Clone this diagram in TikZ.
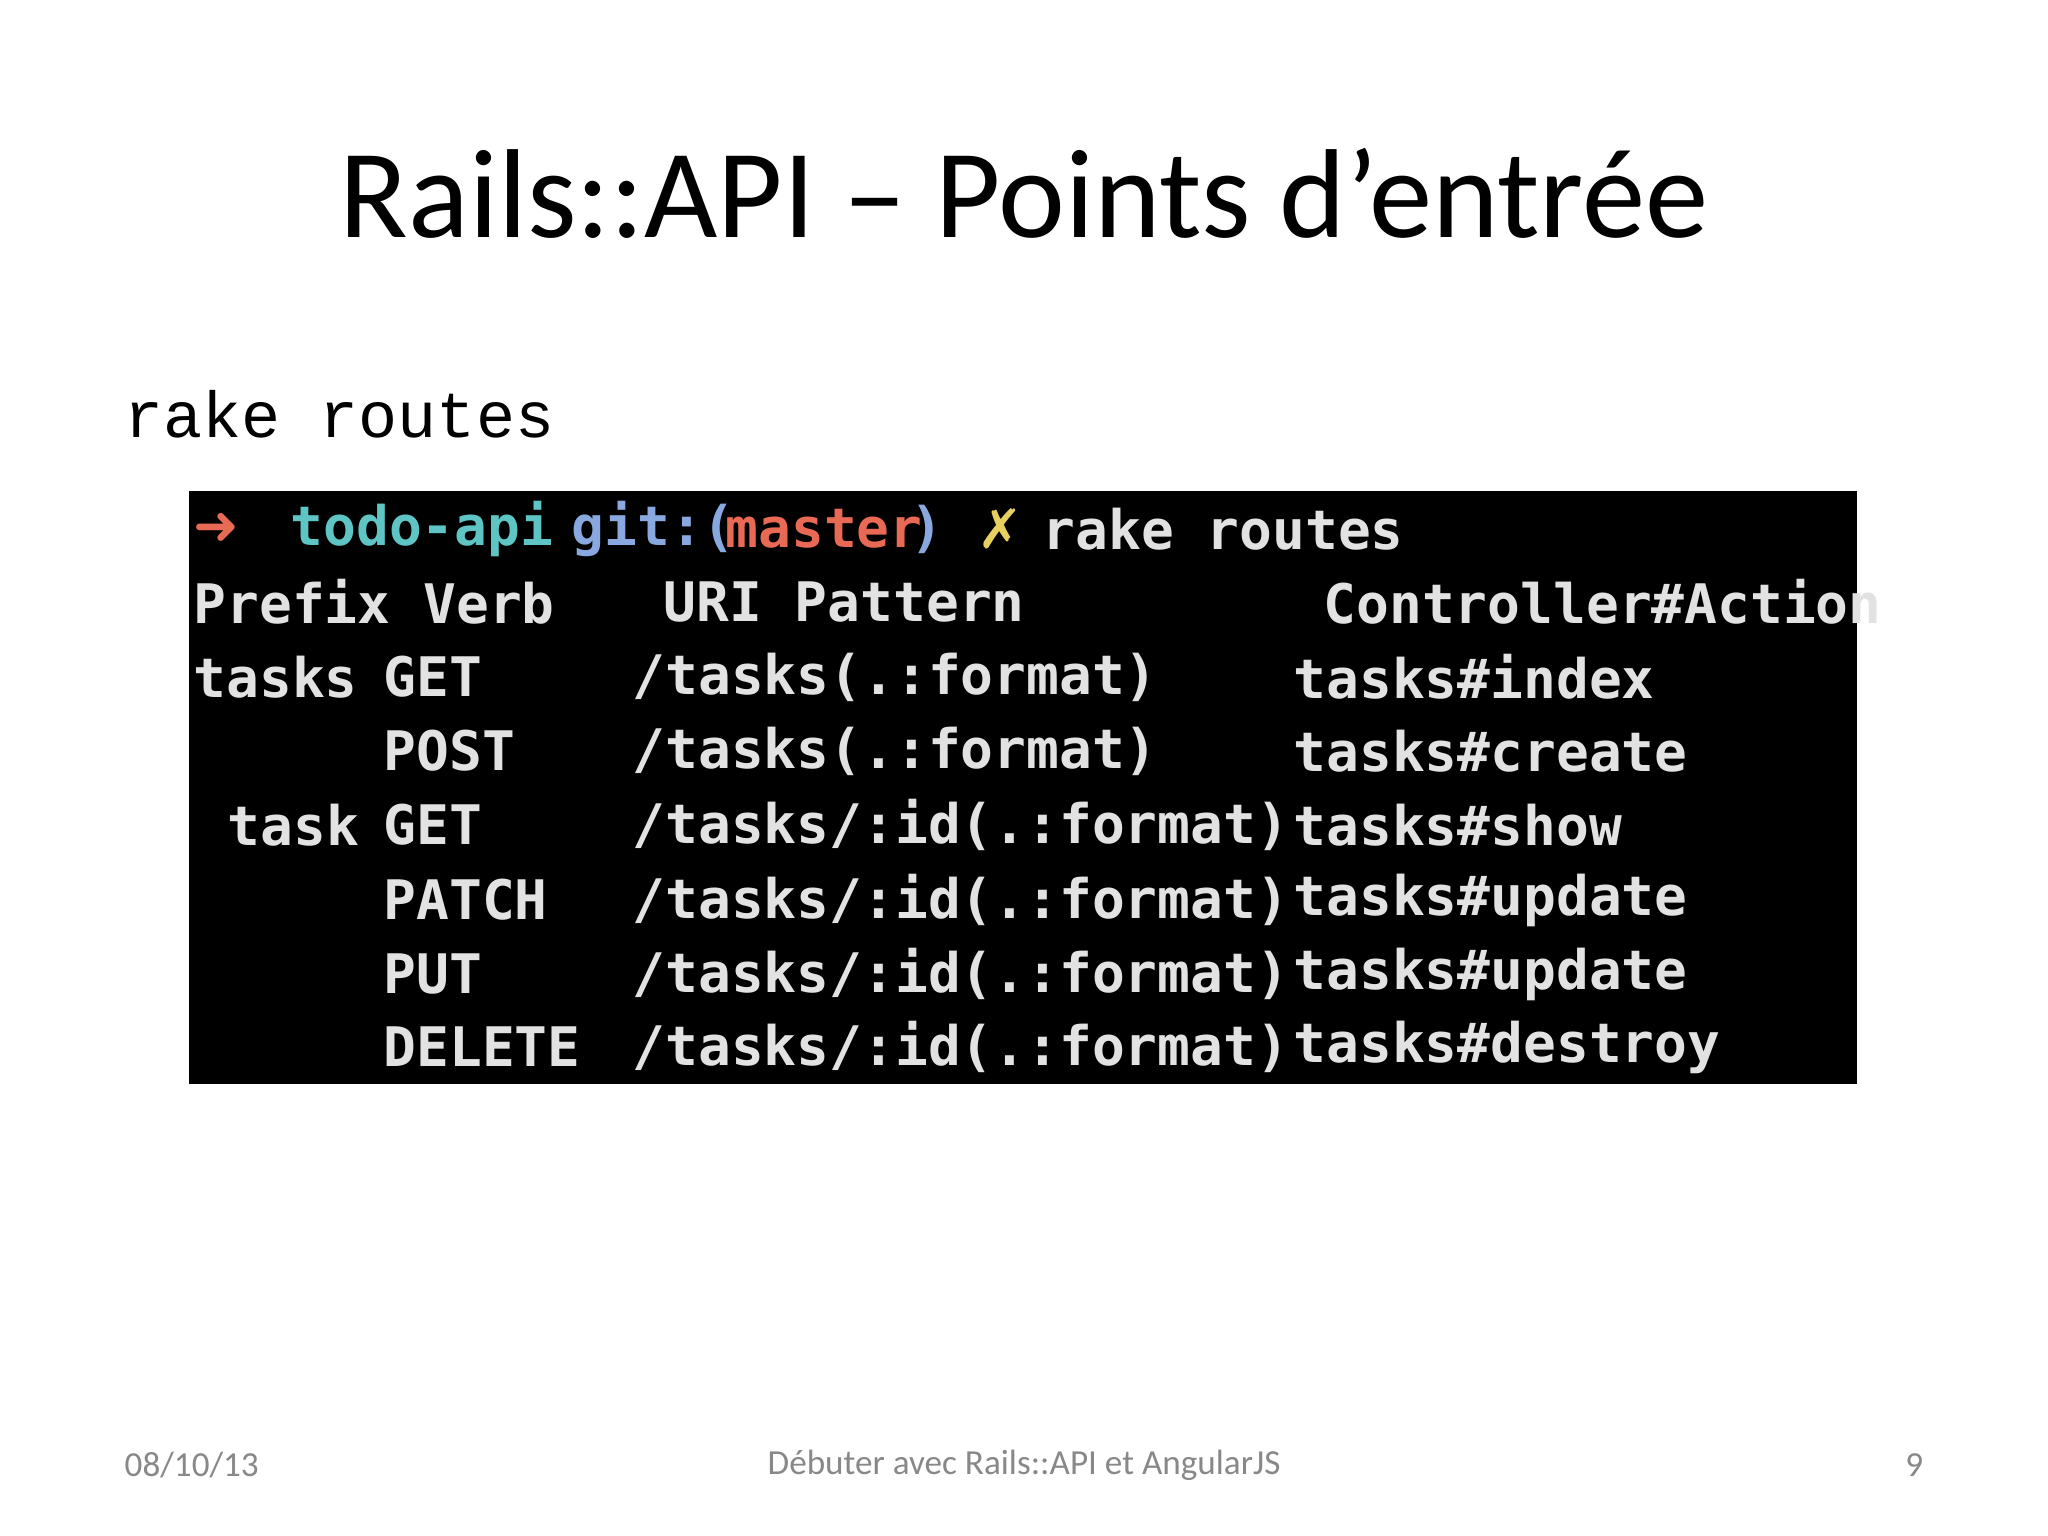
\documentclass[tikz,border=0pt]{standalone}
\usepackage{fontspec}
\setmainfont{Carlito}
\newfontfamily\codefont{Liberation Mono}
\newfontfamily\termfont{DejaVu Sans Mono}
\newfontfamily\symfont{DejaVu Sans}
\definecolor{termfg}{HTML}{E2E2E2}
\definecolor{tcyan}{HTML}{5EC4C4}
\definecolor{tblue}{HTML}{8AA8E0}
\definecolor{tred}{HTML}{E86A55}
\definecolor{tyellow}{HTML}{E8D060}
\definecolor{footgray}{HTML}{888888}
\tikzset{
  tt/.style={anchor=west,inner sep=0pt,text=termfg,font=\termfont\bfseries\fontsize{15.5}{17}\selectfont},
  foot/.style={inner sep=0pt,text=footgray,font=\fontsize{10}{12}\selectfont}
}
\begin{document}
\begin{tikzpicture}[x=0.01cm,y=-0.01cm]
\useasboundingbox (0,0) rectangle (2048,1536);
\node (title) at (1024,193) {\fontsize{36}{40}\selectfont Rails::API -- Points d’entrée};
\node[anchor=west,inner sep=0pt] (cmd) at (124,414) {\codefont\fontsize{18.5}{20}\selectfont rake routes};
\fill[black] (189,491) rectangle (1857,1084);
% line 1
\node[tt,text=tred] (arr) at (193,529) {\symfont\bfseries ➜};
\node[tt,text=tcyan] (todo) at (290,529) {todo-api};
\node[tt,text=tblue] (git) at (571,529) {git:(};
\node[tt,text=tred] (mst) at (725,529) {master};
\node[tt,text=tblue] (par) at (910,529) {)};
\node[tt,text=tyellow] (x) at (977,529) {\symfont\bfseries ✗};
\node[tt] (rr) at (1042,529) {rake routes};
% header
\node[tt] (h1) at (193,602) {Prefix Verb};
\node[tt] (h2) at (663,602) {URI Pattern};
\node[tt] (h3) at (1323,602) {Controller\#Action};
% rows
\node[tt] (p1) at (193,677) {tasks};
\node[tt] (p2) at (227,825) {task};
\foreach \v/\u/\c/\y in {GET/{/tasks(.:format)}/{tasks\#index}/677,
  POST/{/tasks(.:format)}/{tasks\#create}/751,
  GET/{/tasks/:id(.:format)}/{tasks\#show}/825,
  PATCH/{/tasks/:id(.:format)}/{tasks\#update}/900,
  PUT/{/tasks/:id(.:format)}/{tasks\#update}/974,
  DELETE/{/tasks/:id(.:format)}/{tasks\#destroy}/1047}{
  \node[tt] (v\y) at (383,\y) {\v};
  \node[tt] (u\y) at (632,\y) {\u};
  \node[tt] (c\y) at (1293,\y) {\c};
}
\node[foot,anchor=west] (date) at (124,1465) {08/10/13};
\node[foot] (ft) at (1024,1465) {Débuter avec Rails::API et AngularJS};
\node[foot,anchor=east] (pg) at (1924,1465) {9};
\end{tikzpicture}
\end{document}
